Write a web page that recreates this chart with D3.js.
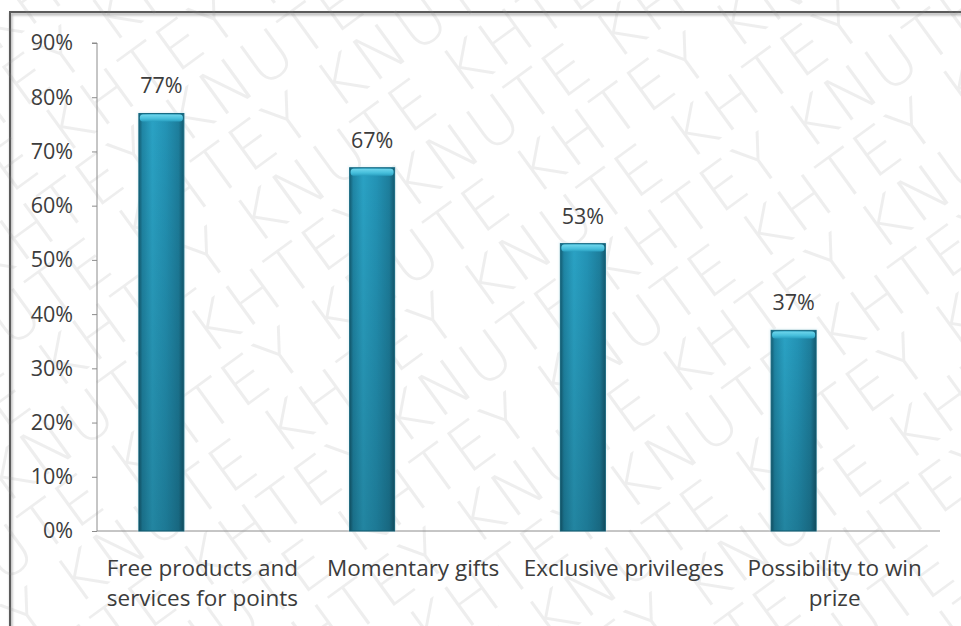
<!DOCTYPE html>
<html>
<head>
<meta charset="utf-8">
<script src="https://cdn.jsdelivr.net/npm/d3@7"></script>
<style>
  html, body { margin: 0; padding: 0; background: #fff; }
  svg { display: block; }
</style>
</head>
<body>
<svg id="chart" width="961" height="626"></svg>
<script>
// Chart data
const categories = ["Free products and services for points", "Momentary gifts", "Exclusive privileges", "Possibility to win prize"];
const categoryLines = [["Free products and", "services for points"], ["Momentary gifts"], ["Exclusive privileges"], ["Possibility to win", "prize"]];
const values = [0.77, 0.67, 0.53, 0.37];
const valueLabels = ["77%", "67%", "53%", "37%"];
const yTicks = [0, 0.1, 0.2, 0.3, 0.4, 0.5, 0.6, 0.7, 0.8, 0.9];
const watermarkWords = ["KNUTE", "KHTEY"];

const W = 961, H = 626;
const plot = { left: 97, right: 940, top: 43, bottom: 531 };
const barWidth = 45;
const depthShift = 41; // bars sit left of the band centre (3D depth offset)
const textColor = "#3c3c3c";
const font = "'Open Sans', 'Liberation Sans', sans-serif";

const svg = d3.select("#chart");
const defs = svg.append("defs");

// Bar body: horizontal shading for a rounded column look
const gH = defs.append("linearGradient").attr("id", "barH").attr("x1", 0).attr("x2", 1).attr("y1", 0).attr("y2", 0);
[[0, "#145d73"], [0.08, "#1f86a5"], [0.3, "#2aa2c4"], [0.6, "#2393b5"], [0.88, "#1d7e9c"], [1, "#145a70"]]
  .forEach(([o, c]) => gH.append("stop").attr("offset", o).attr("stop-color", c));
// Darkening towards the base
const gV = defs.append("linearGradient").attr("id", "barV").attr("x1", 0).attr("x2", 0).attr("y1", 0).attr("y2", 1);
gV.append("stop").attr("offset", 0).attr("stop-color", "#000").attr("stop-opacity", 0);
gV.append("stop").attr("offset", 1).attr("stop-color", "#000").attr("stop-opacity", 0.18);
// Top cap highlight
const gC = defs.append("linearGradient").attr("id", "barCap").attr("x1", 0).attr("x2", 0).attr("y1", 0).attr("y2", 1);
[[0, "#6fd6ec"], [0.6, "#45bedb"], [1, "#2a9fc0"]]
  .forEach(([o, c]) => gC.append("stop").attr("offset", o).attr("stop-color", c));

const glow = defs.append("filter").attr("id", "shadow").attr("x", "-5%").attr("y", "-5%").attr("width", "110%").attr("height", "110%");
glow.append("feGaussianBlur").attr("stdDeviation", 1.2);

// Background
svg.append("rect").attr("width", W).attr("height", H).attr("fill", "#fff");

// Outer frame with soft shadow
svg.append("path").attr("d", `M11,${H + 5} V14 H${W + 5}`).attr("fill", "none")
  .attr("stroke", "#bbb").attr("stroke-width", 3).attr("filter", "url(#shadow)");
svg.append("path").attr("d", `M10,${H + 5} V12 H${W + 5}`).attr("fill", "none")
  .attr("stroke", "#5a5a5a").attr("stroke-width", 2);

// Scales
const x = d3.scaleBand().domain(categories).range([plot.left, plot.right]).padding(0);
const y = d3.scaleLinear().domain([0, 0.9]).range([plot.bottom, plot.top]);

// Y axis
const yAxis = d3.axisLeft(y).tickValues(yTicks).tickFormat(d3.format(".0%")).tickSize(5).tickPadding(19);
const yg = svg.append("g").attr("transform", `translate(${plot.left},0)`).call(yAxis);
yg.select(".domain").attr("stroke", "#8c8c8c").attr("d", `M-5,${plot.top}H0V${plot.bottom}`);
yg.selectAll(".tick line").attr("stroke", "#8c8c8c");
yg.selectAll(".tick text").attr("fill", textColor).style("font-family", font).style("font-size", "21.5px");

// X axis baseline
const xAxis = d3.axisBottom(x).tickSize(0).tickFormat("");
const xg = svg.append("g").attr("transform", `translate(0,${plot.bottom})`).call(xAxis);
xg.select(".domain").attr("stroke", "#8c8c8c").attr("d", `M${plot.left},0H${plot.right}`);

// Diagonal watermark across the whole picture
const wm = svg.append("g").attr("transform", `translate(${W / 2},${H / 2}) rotate(-36)`)
  .attr("pointer-events", "none");
for (let r = -9; r <= 9; r++) {
  const words = [];
  for (let k = 0; k < 12; k++) words.push(watermarkWords[(k + r + 100) % 2]);
  wm.append("text")
    .attr("x", -1000 + ((r + 100) % 2) * 110)
    .attr("y", r * 62)
    .attr("fill", "#8a8a8a").attr("fill-opacity", 0.15)
    .style("font-family", "'DejaVu Sans', sans-serif").style("font-weight", 200)
    .style("font-size", "64px").style("letter-spacing", "3px")
    .text(words.join(" "));
}

// Bars
const barX = c => x(c) + x.bandwidth() / 2 - depthShift - barWidth / 2;
const bars = svg.append("g").selectAll("g").data(categories).join("g");
bars.append("rect")
  .attr("x", c => barX(c) - 1.5).attr("y", (c, i) => y(values[i]) - 1.5)
  .attr("width", barWidth + 3).attr("height", (c, i) => y(0) - y(values[i]) + 1.5)
  .attr("fill", "#d9eef4").attr("opacity", 0.6).attr("filter", "url(#shadow)");
bars.append("rect")
  .attr("x", c => barX(c)).attr("y", (c, i) => y(values[i]))
  .attr("width", barWidth).attr("height", (c, i) => y(0) - y(values[i]))
  .attr("fill", "url(#barH)").attr("stroke", "#176a82").attr("stroke-width", 1);
bars.append("rect")
  .attr("x", c => barX(c)).attr("y", (c, i) => y(values[i]))
  .attr("width", barWidth).attr("height", (c, i) => y(0) - y(values[i]))
  .attr("fill", "url(#barV)");
bars.append("rect")
  .attr("x", c => barX(c) + 1).attr("y", (c, i) => y(values[i]) + 1)
  .attr("width", barWidth - 2).attr("height", 7).attr("rx", 3)
  .attr("fill", "url(#barCap)");

// Value labels
svg.append("g").selectAll("text").data(categories).join("text")
  .attr("x", c => barX(c) + barWidth / 2)
  .attr("y", (c, i) => y(values[i]) - 20)
  .attr("text-anchor", "middle")
  .attr("fill", textColor).style("font-family", font).style("font-size", "21.5px")
  .text((c, i) => valueLabels[i]);

// Category labels
const cat = svg.append("g").selectAll("text").data(categories).join("text")
  .attr("text-anchor", "middle")
  .attr("fill", textColor).style("font-family", font).style("font-size", "22.5px");
cat.each(function (c, i) {
  const t = d3.select(this);
  categoryLines[i].forEach((line, k) => {
    t.append("tspan").attr("x", x(c) + x.bandwidth() / 2).attr("y", 576 + k * 30).text(line);
  });
});
</script>
</body>
</html>
